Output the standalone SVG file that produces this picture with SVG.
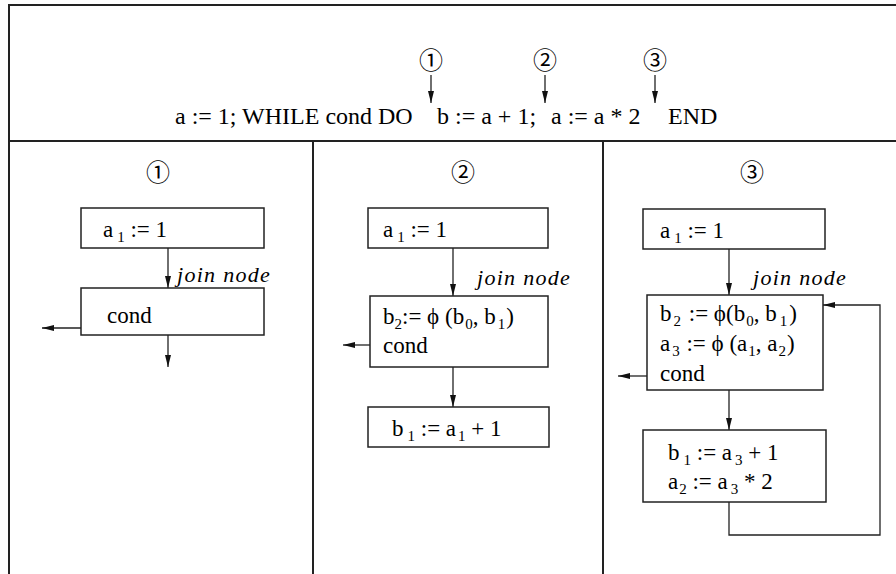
<svg xmlns="http://www.w3.org/2000/svg" width="896" height="574" viewBox="0 0 896 574" font-family="'Liberation Serif', 'DejaVu Serif', serif">
<style>
text{font-family:'Liberation Serif','DejaVu Serif','Noto Serif',serif;font-size:23px;fill:#000}
.hd{font-size:24px}
.sub{font-size:15px}
.it{font-style:italic;font-size:22px;letter-spacing:1.3px}
.circ{font-family:'Noto Sans CJK JP','DejaVu Sans',sans-serif;font-size:24px;text-anchor:middle}
.frame{stroke:#222;stroke-width:2;fill:none}
.box{stroke:#222;stroke-width:1.5;fill:#fff}
.conn{stroke:#222;stroke-width:1.3;fill:none}
</style>
<defs>
<marker id="ah" viewBox="0 0 12 8" refX="12" refY="4" markerWidth="12" markerHeight="8" markerUnits="userSpaceOnUse" orient="auto">
<path d="M0,1 L12,4 L0,7 z" fill="#111"/>
</marker>
</defs>
<rect width="896" height="574" fill="#fff"/>
<g id="frame">
<path class="frame" d="M9,574 V5 H896"/>
<path class="frame" d="M9,141 H896"/>
<path class="frame" d="M313,141 V574"/>
<path class="frame" d="M603,141 V574"/>
</g>
<g id="header">
<text class="circ" x="431" y="69">①</text>
<text class="circ" x="545" y="69">②</text>
<text class="circ" x="655" y="69">③</text>
<text class="hd" x="175" y="124">a := 1; WHILE cond DO</text>
<text class="hd" x="437" y="124">b := a + 1;</text>
<text class="hd" x="551" y="124">a := a * 2</text>
<text class="hd" x="668" y="124">END</text>
</g>
<g id="connectors">
<line class="conn" x1="431" y1="75" x2="431" y2="103" marker-end="url(#ah)"/>
<line class="conn" x1="545" y1="75" x2="545" y2="103" marker-end="url(#ah)"/>
<line class="conn" x1="655" y1="75" x2="655" y2="103" marker-end="url(#ah)"/>
<line class="conn" x1="168" y1="248" x2="168" y2="288" marker-end="url(#ah)"/>
<line class="conn" x1="81" y1="328" x2="42" y2="328" marker-end="url(#ah)"/>
<line class="conn" x1="168" y1="335" x2="168" y2="367" marker-end="url(#ah)"/>
<line class="conn" x1="453" y1="248" x2="453" y2="296" marker-end="url(#ah)"/>
<line class="conn" x1="370" y1="345" x2="343" y2="345" marker-end="url(#ah)"/>
<line class="conn" x1="453" y1="367" x2="453" y2="407" marker-end="url(#ah)"/>
<line class="conn" x1="729" y1="249" x2="729" y2="295" marker-end="url(#ah)"/>
<line class="conn" x1="647" y1="376" x2="618" y2="376" marker-end="url(#ah)"/>
<line class="conn" x1="729" y1="390" x2="729" y2="430" marker-end="url(#ah)"/>
<path class="conn" d="M729,502 V535 H880 V305 H823" marker-end="url(#ah)"/>
</g>
<g id="panel1">
<text class="circ" x="158" y="181">①</text>
<g id="p1-a1">
<rect class="box" x="81" y="208" width="183" height="40"/>
<text x="103" y="237">a<tspan class="sub" dx="4" dy="5">1</tspan><tspan dy="-5"> := 1</tspan></text>
</g>
<text class="it" x="177" y="282">join node</text>
<g id="p1-cond">
<rect class="box" x="81" y="288" width="183" height="47"/>
<text x="107" y="323">cond</text>
</g>
</g>
<g id="panel2">
<text class="circ" x="463" y="181">②</text>
<g id="p2-a1">
<rect class="box" x="368" y="208" width="180" height="40"/>
<text x="383" y="237">a<tspan class="sub" dx="4" dy="5">1</tspan><tspan dy="-5"> := 1</tspan></text>
</g>
<text class="it" x="477" y="285">join node</text>
<g id="p2-join">
<rect class="box" x="370" y="296" width="178" height="71"/>
<text x="383" y="324">b<tspan class="sub" dy="5">2</tspan><tspan dy="-5">:= ϕ (b</tspan><tspan class="sub" dx="1" dy="5">0</tspan><tspan dy="-5">, b</tspan><tspan class="sub" dx="2" dy="5">1</tspan><tspan dx="1" dy="-5">)</tspan></text>
<text x="383" y="353">cond</text>
</g>
<g id="p2-b1">
<rect class="box" x="368" y="407" width="181" height="40"/>
<text x="392" y="436">b<tspan class="sub" dx="4" dy="5">1</tspan><tspan dy="-5"> := a</tspan><tspan class="sub" dx="2" dy="5">1</tspan><tspan dy="-5"> + 1</tspan></text>
</g>
</g>
<g id="panel3">
<text class="circ" x="752" y="181">③</text>
<g id="p3-a1">
<rect class="box" x="643" y="209" width="182" height="40"/>
<text x="660" y="238">a<tspan class="sub" dx="4" dy="5">1</tspan><tspan dy="-5"> := 1</tspan></text>
</g>
<text class="it" x="753" y="285">join node</text>
<g id="p3-join">
<rect class="box" x="647" y="295" width="176" height="95"/>
<text x="660" y="321">b<tspan class="sub" dx="2" dy="5">2</tspan><tspan dx="2" dy="-5"> := ϕ(b</tspan><tspan class="sub" dx="1" dy="5">0</tspan><tspan dy="-5">, b</tspan><tspan class="sub" dx="3" dy="5">1</tspan><tspan dx="2" dy="-5">)</tspan></text>
<text x="660" y="351">a<tspan class="sub" dx="2" dy="5">3</tspan><tspan dx="1" dy="-5"> :=  ϕ (a</tspan><tspan class="sub" dx="1" dy="5">1</tspan><tspan dy="-5">, a</tspan><tspan class="sub" dx="1" dy="5">2</tspan><tspan dx="1" dy="-5">)</tspan></text>
<text x="660" y="381">cond</text>
</g>
<g id="p3-body">
<rect class="box" x="643" y="430" width="183" height="72"/>
<text x="668" y="460">b<tspan class="sub" dx="4" dy="5">1</tspan><tspan dy="-5"> := a</tspan><tspan class="sub" dx="3" dy="5">3</tspan><tspan dy="-5"> + 1</tspan></text>
<text x="668" y="489">a<tspan class="sub" dx="1" dy="5">2</tspan><tspan dy="-5"> := a</tspan><tspan class="sub" dx="3" dy="5">3</tspan><tspan dy="-5"> * 2</tspan></text>
</g>
</g>
</svg>
